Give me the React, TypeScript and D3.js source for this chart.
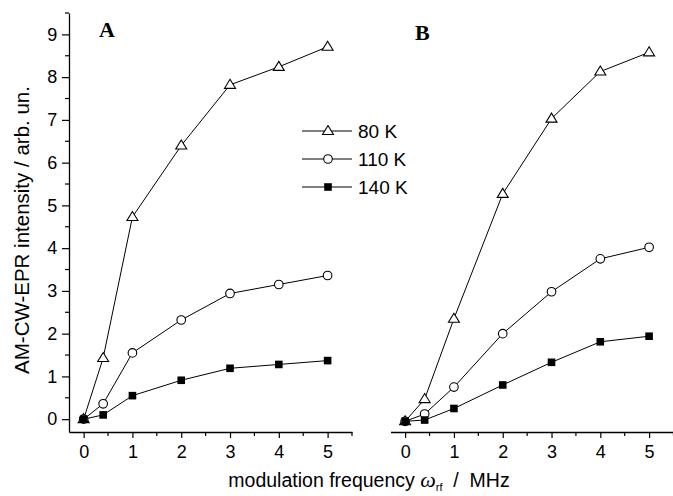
import React, { useEffect, useRef } from 'react';
import * as d3 from 'd3';

const freqs = [0, 0.4, 1, 2, 3, 4, 5];
const seriesNames = ['80 K', '110 K', '140 K'];
const panelA80 = [0, 1.43, 4.73, 6.4, 7.82, 8.24, 8.71];
const panelA110 = [0, 0.36, 1.55, 2.32, 2.94, 3.15, 3.36];
const panelA140 = [0, 0.1, 0.55, 0.91, 1.19, 1.28, 1.37];
const panelB80 = [-0.05, 0.47, 2.35, 5.27, 7.03, 8.13, 8.58];
const panelB110 = [-0.05, 0.12, 0.75, 2.0, 2.98, 3.75, 4.02];
const panelB140 = [-0.05, -0.02, 0.25, 0.8, 1.33, 1.81, 1.94];
const xTicks = [0, 1, 2, 3, 4, 5];
const yTicks = [0, 1, 2, 3, 4, 5, 6, 7, 8, 9];

const font = '"Liberation Sans", Arial, sans-serif';

const App = () => {
  const ref = useRef<SVGSVGElement>(null);

  useEffect(() => {
    const svg = d3.select(ref.current);
    svg.selectAll('*').remove();

    const y = d3.scaleLinear().domain([-0.3, 9.5]).range([432, 13]);
    const xA = d3.scaleLinear().domain([-0.3, 5.5]).range([69, 352]);
    const xB = d3.scaleLinear().domain([-0.3, 5.5]).range([390.5, 673.5]);

    const drawXAxis = (x: d3.ScaleLinear<number, number>) => {
      const g = svg.append('g').attr('transform', `translate(0,${y(-0.3)})`);
      g.call(d3.axisBottom(x).tickValues(xTicks).tickSize(6).tickSizeOuter(0).tickFormat(d3.format('d')))
        .call(s => s.select('.domain').attr('stroke-width', 1.3));
      g.selectAll('.tick line').attr('stroke-width', 1.2);
      g.selectAll('.tick text').attr('font-size', 18).attr('font-family', font).attr('dy', '0.95em');
      const minor = d3.range(-0, 5.51, 0.5).filter(v => !xTicks.includes(v));
      g.selectAll('.minor').data(minor).enter().append('line')
        .attr('x1', d => x(d)).attr('x2', d => x(d)).attr('y1', 0).attr('y2', 4)
        .attr('stroke', '#000').attr('stroke-width', 1.2);
    };
    drawXAxis(xA);
    drawXAxis(xB);

    const gy = svg.append('g').attr('transform', `translate(${xA(-0.3)},0)`);
    gy.call(d3.axisLeft(y).tickValues(yTicks).tickSize(7).tickSizeOuter(0).tickFormat(d3.format('d')))
      .call(s => s.select('.domain').attr('stroke-width', 1.3));
    gy.selectAll('.tick line').attr('stroke-width', 1.2);
    gy.selectAll('.tick text').attr('font-size', 18).attr('font-family', font).attr('dx', '-0.1em');
    gy.selectAll('.minor').data(d3.range(-0, 9.51, 0.5).filter(v => !yTicks.includes(v))).enter().append('line')
      .attr('x1', -4).attr('x2', 0).attr('y1', d => y(d)).attr('y2', d => y(d))
      .attr('stroke', '#000').attr('stroke-width', 1.2);

    const marker = (g: d3.Selection<any, any, any, any>, kind: number, cx: number, cy: number) => {
      if (kind === 0) {
        g.append('path').attr('d', `M${cx},${cy - 5.5}L${cx + 5.5},${cy + 3.5}L${cx - 5.5},${cy + 3.5}Z`)
          .attr('fill', '#fff').attr('stroke', '#000').attr('stroke-width', 1.1);
      } else if (kind === 1) {
        g.append('circle').attr('cx', cx).attr('cy', cy).attr('r', 4.3)
          .attr('fill', '#fff').attr('stroke', '#000').attr('stroke-width', 1.1);
      } else {
        g.append('rect').attr('x', cx - 3.8).attr('y', cy - 3.8).attr('width', 7.6).attr('height', 7.6)
          .attr('fill', '#000');
      }
    };

    const drawPanel = (x: d3.ScaleLinear<number, number>, sets: number[][]) => {
      const g = svg.append('g');
      sets.forEach(vals => {
        const line = d3.line<number>().x((_, i) => x(freqs[i])).y(v => y(v));
        g.append('path').datum(vals).attr('d', line).attr('fill', 'none')
          .attr('stroke', '#000').attr('stroke-width', 1);
      });
      sets.forEach((vals, k) => {
        vals.forEach((v, i) => marker(g, k, x(freqs[i]), y(v)));
      });
    };
    drawPanel(xA, [panelA80, panelA110, panelA140]);
    drawPanel(xB, [panelB80, panelB110, panelB140]);

    // legend
    const lg = svg.append('g');
    seriesNames.forEach((name, k) => {
      const ly = 131 + k * 28;
      lg.append('line').attr('x1', 302).attr('x2', 352).attr('y1', ly).attr('y2', ly)
        .attr('stroke', '#000').attr('stroke-width', 1);
      marker(lg, k, 328, ly);
      lg.append('text').attr('x', 358).attr('y', ly).attr('dy', '0.36em')
        .attr('font-family', font).attr('font-size', 19).text(name);
    });

    svg.append('text').attr('x', 99).attr('y', 37).attr('font-family', '"Liberation Serif", serif')
      .attr('font-weight', 'bold').attr('font-size', 22).text('A');
    svg.append('text').attr('x', 415).attr('y', 40).attr('font-family', '"Liberation Serif", serif')
      .attr('font-weight', 'bold').attr('font-size', 22).text('B');

    svg.append('text').attr('transform', 'translate(29,230) rotate(-90)').attr('text-anchor', 'middle')
      .attr('font-family', font).attr('font-size', 20.5).text('AM-CW-EPR intensity / arb. un.');

    const xl = svg.append('text').attr('x', 369).attr('y', 487).attr('text-anchor', 'middle')
      .attr('font-family', font).attr('font-size', 19.5).attr('xml:space', 'preserve');
    xl.append('tspan').text('modulation frequency ');
    xl.append('tspan').attr('font-family', '"Liberation Serif", serif').attr('font-style', 'italic').attr('font-size', 22).text('ω');
    xl.append('tspan').attr('font-size', 11).attr('dy', 4).text('rf');
    xl.append('tspan').attr('dy', -4).text('  /  MHz');
  }, []);

  return (
    <svg ref={ref} width={673} height={496}
      style={{ position: 'absolute', left: 0, top: 0, background: '#fff' }} />
  );
};

export default App;
